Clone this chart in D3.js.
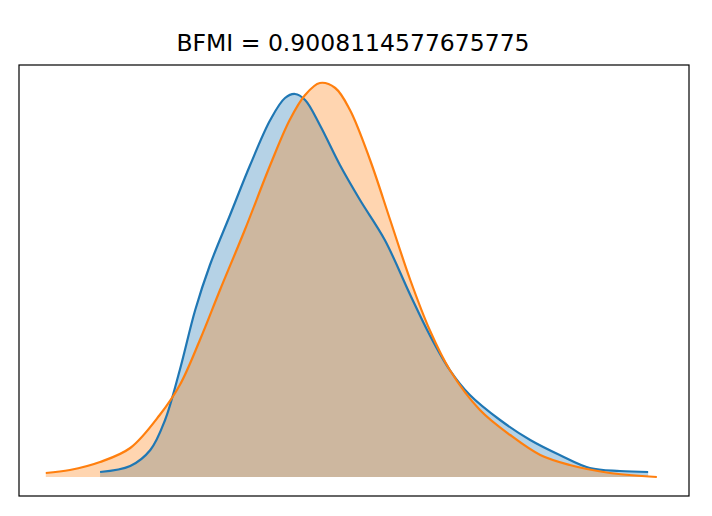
<!DOCTYPE html><html><head><meta charset="utf-8"><script src="https://cdn.jsdelivr.net/npm/d3@7"></script>
<style>body{margin:0;background:#fff}</style></head><body><svg width="712" height="516"></svg><script>
const title="BFMI = 0.9008114577675775";
const blueX=[1.21,1.66,1.96,2.18,2.40,2.63,2.85,3.15,3.45,3.75,3.97,4.12,4.27,4.49,4.79,5.09,5.46,5.84,6.13,6.43,6.73,7.18,7.63,8.07,8.52,8.97,9.39];
const blueY=[.05,.11,.27,.57,1.07,1.67,2.12,2.62,3.12,3.57,3.79,3.83,3.77,3.52,3.12,2.77,2.37,1.82,1.42,1.07,.82,.57,.37,.22,.09,.06,.05];
const orangeX=[.40,.76,1.21,1.66,2.10,2.40,2.70,3.00,3.37,3.75,4.04,4.27,4.49,4.72,4.94,5.24,5.54,5.84,6.13,6.43,6.88,7.33,7.78,8.22,8.82,9.52];
const orangeY=[.04,.07,.15,.29,.62,.92,1.37,1.87,2.47,3.12,3.57,3.82,3.94,3.89,3.67,3.17,2.57,1.97,1.47,1.07,.67,.42,.22,.12,.04,0];
const svg=d3.select("svg");
const x=d3.scaleLinear().domain([0,10]).range([19,689]);
const y=d3.scaleLinear().domain([-0.19,4.12]).range([496,65]);
svg.append("text").attr("x",353).attr("y",51).attr("text-anchor","middle").attr("font-family","DejaVu Sans").attr("font-size",23.5).text(title);
const series=[[blueX,blueY,"#1f77b4"],[orangeX,orangeY,"#ff7f0e"]];
const cv=d3.curveCatmullRom.alpha(0.5);
series.forEach(([xs,ys,c])=>{
 const d=xs.map((v,i)=>[v,ys[i]]);
 svg.append("path").attr("d",d3.area().x(p=>x(p[0])).y0(y(0)).y1(p=>y(p[1])).curve(cv)(d)).attr("fill",c).attr("fill-opacity",0.33);
});
series.forEach(([xs,ys,c])=>{
 const d=xs.map((v,i)=>[v,ys[i]]);
 svg.append("path").attr("d",d3.line().x(p=>x(p[0])).y(p=>y(p[1])).curve(cv)(d)).attr("fill","none").attr("stroke",c).attr("stroke-width",2.2);
});
svg.append("rect").attr("x",19).attr("y",65).attr("width",670).attr("height",431).attr("fill","none").attr("stroke","#000").attr("stroke-width",1.2);
</script></body></html>
